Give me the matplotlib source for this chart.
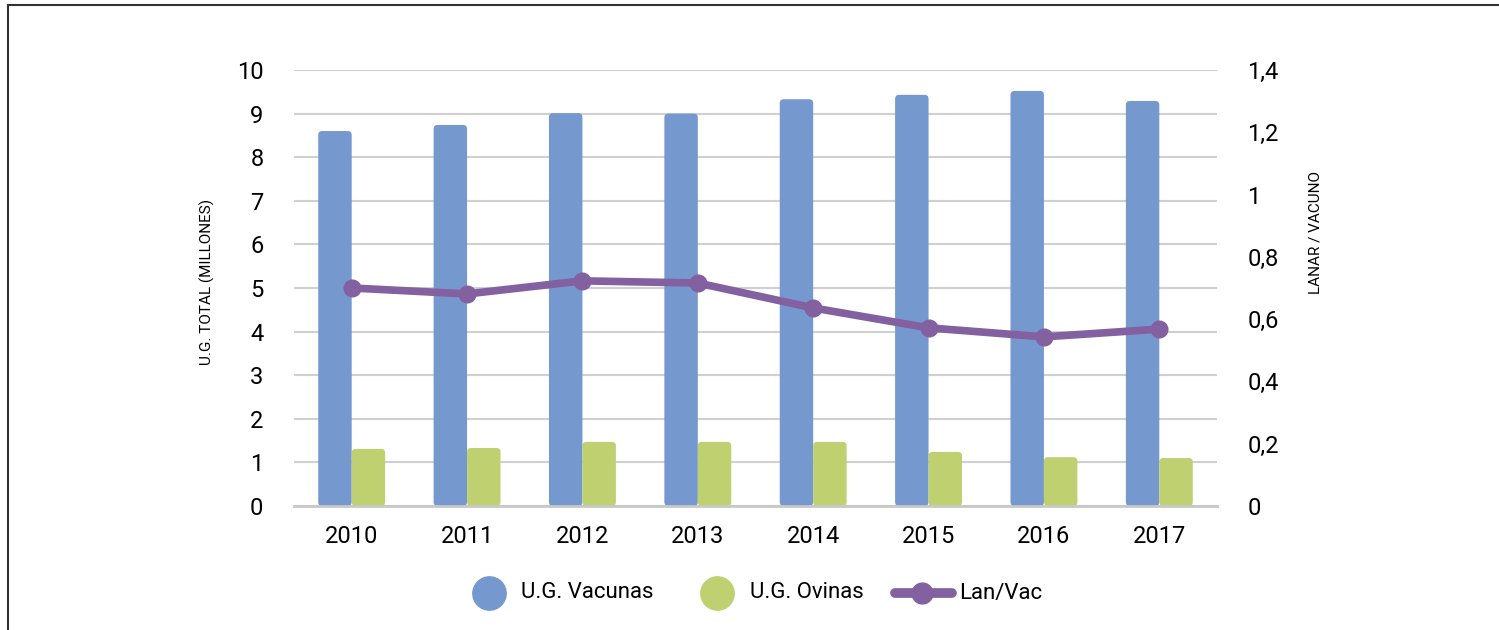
import matplotlib
matplotlib.use("Agg")
import matplotlib.pyplot as plt
from matplotlib.lines import Line2D
from matplotlib.patches import FancyBboxPatch
import numpy as np

years = ["2010", "2011", "2012", "2013", "2014", "2015", "2016", "2017"]
ug_vacunas = [8.60, 8.74, 9.01, 9.00, 9.33, 9.43, 9.52, 9.29]
ug_ovinas = [1.31, 1.33, 1.47, 1.47, 1.47, 1.24, 1.12, 1.10]
lan_vac = [0.700, 0.681, 0.723, 0.716, 0.636, 0.572, 0.543, 0.568]
left_ticks = [0, 1, 2, 3, 4, 5, 6, 7, 8, 9, 10]
right_ticks = [0, 0.2, 0.4, 0.6, 0.8, 1.0, 1.2, 1.4]
right_labels = ["0", "0,2", "0,4", "0,6", "0,8", "1", "1,2", "1,4"]
series_names = ["U.G. Vacunas", "U.G. Ovinas", "Lan/Vac"]

FONT = ["Liberation Sans Narrow", "Roboto", "DejaVu Sans"]
plt.rcParams["font.family"] = FONT

BLUE = "#7598CF"
GREEN = "#BFD071"
PURPLE = "#8360A0"
GRID = "#D0D0D0"

W, H = 1499, 630
fig = plt.figure(figsize=(W / 100, H / 100), dpi=100)
ax = fig.add_axes([294 / W, 1 - 506 / H, (1217 - 294) / W, (506 - 70) / H])
ax2 = ax.twinx()

x = np.arange(len(years))
bw = 0.29
b1 = ax.bar(x - bw / 2, ug_vacunas, bw, color=BLUE, zorder=2)
b2 = ax.bar(x + bw / 2, ug_ovinas, bw, color=GREEN, zorder=2)

ax.set_xlim(-0.5, len(years) - 0.5)
ax.set_ylim(0, 10)
ax2.set_ylim(0, 1.4)

# rounded corners for bars
xpp = (len(years)) / (1217 - 294)  # data units per pixel x
ypp = 10 / (506 - 70)
for bars in (b1, b2):
    for r in bars:
        bx, by = r.get_x(), r.get_y()
        bwid, bh = r.get_width(), r.get_height()
        rad = 4 * xpp
        p = FancyBboxPatch((bx + rad, by + rad * ypp / xpp), bwid - 2 * rad,
                           bh - 2 * rad * ypp / xpp,
                           boxstyle=f"round,pad={rad},rounding_size={rad}",
                           mutation_aspect=ypp / xpp,
                           facecolor=r.get_facecolor(), edgecolor="none", zorder=2)
        ax.add_patch(p)
        r.set_visible(False)

ax.set_yticks(left_ticks)
ax.set_yticklabels([str(t) for t in left_ticks])
ax.yaxis.grid(True, color=GRID, linewidth=1.5, zorder=0)
ax.set_axisbelow(True)
ax.set_xticks(x)
ax.set_xticklabels(years)
for s in ["top", "right", "left"]:
    ax.spines[s].set_visible(False)
    ax2.spines[s].set_visible(False)
ax.spines["bottom"].set_color("#C8C8C8")
ax.spines["bottom"].set_linewidth(2)
ax2.spines["bottom"].set_visible(False)
ax.tick_params(axis="both", length=0, labelsize=17, colors="black")
ax.tick_params(axis="x", pad=14)
ax.tick_params(axis="y", pad=22)

ax2.plot(x, lan_vac, color=PURPLE, linewidth=5.5, marker="o", markersize=12,
         solid_capstyle="round", solid_joinstyle="round", zorder=5)
ax2.set_yticks(right_ticks)
ax2.set_yticklabels(right_labels)
ax2.tick_params(axis="y", length=0, labelsize=17, pad=22)

ax.set_zorder(1)
ax2.set_zorder(2)
ax2.patch.set_visible(False)

fig.text(207 / W, 1 - 282 / H, "U.G. TOTAL (MILLONES)", rotation=90,
         ha="center", va="center", fontsize=11)
fig.text(1315 / W, 1 - 232 / H, "LANAR / VACUNO", rotation=90,
         ha="center", va="center", fontsize=11)

# legend drawn manually in figure pixels
ly = 1 - 593 / H
T = fig.transFigure
fig.add_artist(Line2D([489 / W], [ly], transform=T, linestyle="none", marker="o",
                      markersize=24, color=BLUE))
fig.text(521 / W, ly, series_names[0], ha="left", va="center", fontsize=16)
fig.add_artist(Line2D([717 / W], [ly], transform=T, linestyle="none", marker="o",
                      markersize=24, color=GREEN))
fig.text(750 / W, ly, series_names[1], ha="left", va="center", fontsize=16)
fig.add_artist(Line2D([895 / W, 952 / W], [ly, ly], transform=T, color=PURPLE,
                      linewidth=7, solid_capstyle="round"))
fig.add_artist(Line2D([922 / W], [ly], transform=T, linestyle="none", marker="o",
                      markersize=15, color=PURPLE))
fig.text(959 / W, ly, series_names[2], ha="left", va="center", fontsize=16)

# outer frame (left and top)
fig.add_artist(Line2D([8 / W, 8 / W], [0, 1 - 5 / H], transform=T,
                      color="#333333", linewidth=1.5))
fig.add_artist(Line2D([8 / W, 1], [1 - 5 / H, 1 - 5 / H], transform=T,
                      color="#333333", linewidth=1.5))

fig.savefig("out.png", dpi=100)
